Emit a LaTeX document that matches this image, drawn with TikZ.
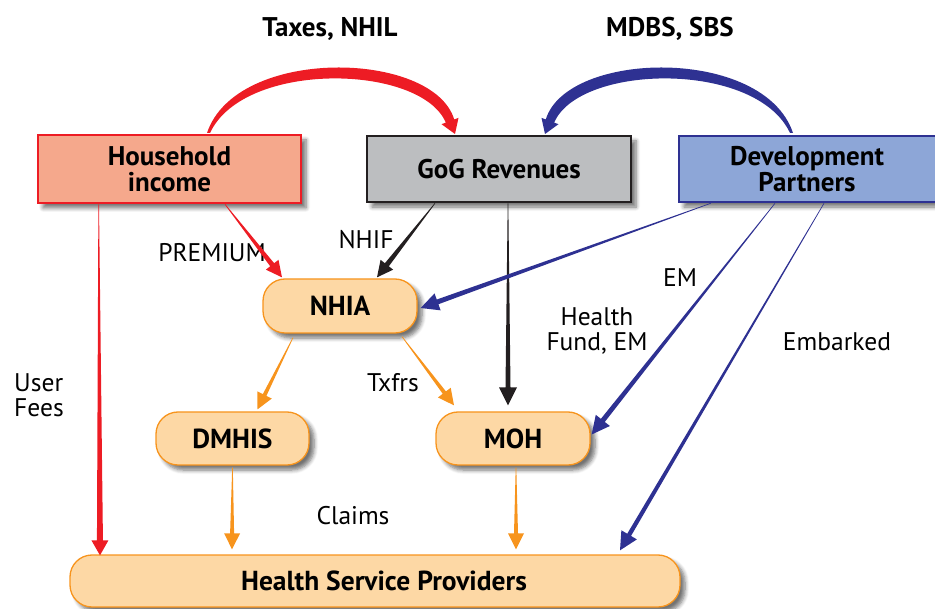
\documentclass[tikz,border=0pt]{standalone}
\usepackage{fontspec}
\setmainfont{PT Sans}
\usetikzlibrary{calc,shadows.blur}
\definecolor{cred}{HTML}{ED1C24}
\definecolor{cblue}{HTML}{2E3192}
\definecolor{cblack}{HTML}{231F20}
\definecolor{corange}{HTML}{F7941D}
\definecolor{hhfill}{HTML}{F5A88C}
\definecolor{gogfill}{HTML}{BCBEC0}
\definecolor{dpfill}{HTML}{8DA6D7}
\definecolor{orfill}{HTML}{FDD8A5}
% tapered straight arrow: color, from, to, shaft half width at end, head length, head half width
\newcommand\tarrow[6]{%
  \fill[#1] let \p1=#2, \p2=#3, \n1={atan2(\y2-\y1,\x2-\x1)},
    \p3=($(\p2)+(\n1+180:#5)$) in
    ($(\p1)+(\n1+90:0.3pt)$) -- ($(\p3)+(\n1+90:#4)$) -- ($(\p3)+(\n1+90:#6)$)
    -- (\p2) -- ($(\p3)+(\n1-90:#6)$) -- ($(\p3)+(\n1-90:#4)$)
    -- ($(\p1)+(\n1-90:0.3pt)$) -- cycle;}
\tikzset{
  shadowed/.style={blur shadow={shadow xshift=5pt, shadow yshift=-5pt, shadow blur steps=6, shadow blur radius=4pt, shadow opacity=55}},
  bigbox/.style={shadowed, line width=2.6pt, align=center, inner sep=0pt,
    font=\fontsize{27}{26}\selectfont\bfseries},
  pill/.style={shadowed, draw=corange, fill=orfill, line width=1.3pt, rounded corners=22pt,
    inner sep=0pt, font=\fontsize{27.5}{26}\selectfont\bfseries},
  lbl/.style={font=\fontsize{25.5}{25}\selectfont, align=center, inner sep=0pt},
  toplbl/.style={font=\fontsize{27}{26}\selectfont\bfseries, inner sep=0pt}
}
\begin{document}
\begin{tikzpicture}[x=1pt,y=-1pt]
\useasboundingbox (0,0) rectangle (935,609);
% boxes
\node[bigbox, draw=cred, fill=hhfill, minimum width=263pt, minimum height=68pt] (hh) at (169.5,169) {Household\\income};
\node[bigbox, draw=cblack, fill=gogfill, minimum width=264pt, minimum height=66pt] (gog) at (499,169) {GoG Revenues};
\node[bigbox, draw=cblue, fill=dpfill, minimum width=262pt, minimum height=66pt] (dp) at (810,169) {\hspace*{-6pt}Development\\\hspace*{-6pt}Partners};
\node[pill, minimum width=154pt, minimum height=54pt] (nhia) at (340,306) {NHIA};
\node[pill, minimum width=153pt, minimum height=53pt] (dmhis) at (232.5,438.5) {DMHIS};
\node[pill, minimum width=154pt, minimum height=53pt] (moh) at (513,438.5) {MOH};
\node[pill, minimum width=610pt, minimum height=52pt] (hsp) at (375,581) {\hspace*{18pt}Health Service Providers};
% labels
\node[toplbl] (l1) at (330,29) {Taxes, NHIL};
\node[toplbl] (l2) at (670,29) {MDBS, SBS};
\node[lbl] (l3) at (212,253) {PREMIUM};
\node[lbl] (l4) at (366,240) {NHIF};
\node[lbl] (l5) at (680,278) {EM};
\node[lbl] (l6) at (597,331) {Health\\Fund, EM};
\node[lbl] (l7) at (837,342) {Embarked};
\node[lbl, align=left, anchor=west] (l8) at (14,395) {User\\Fees};
\node[lbl] (l9) at (393,383) {Txfrs};
\node[lbl] (l10) at (353,516) {Claims};
% curved arrows
\fill[cred] (207,133) .. controls (236,46) and (433,50) .. (454.2,119.4) -- (458.5,117.9) -- (455,134)
  -- (441.5,124.2) -- (445.8,122.6) .. controls (421,64) and (244,60) .. (210,133) -- cycle;
\begin{scope}[xshift=1000pt, xscale=-1]
\fill[cblue] (207,133) .. controls (236,46) and (433,50) .. (454.2,119.4) -- (458.5,117.9) -- (455,134)
  -- (441.5,124.2) -- (445.8,122.6) .. controls (421,64) and (244,60) .. (210,133) -- cycle;
\end{scope}
% straight arrows
\tarrow{cred}{([xshift=55.5pt]hh.south)}{([xshift=-58pt,yshift=1pt]nhia.north)}{2.5pt}{16pt}{8pt}
\tarrow{cblack}{([xshift=-64pt]gog.south)}{([xshift=37pt,yshift=1pt]nhia.north)}{2.5pt}{16pt}{8pt}
\tarrow{cblack}{([xshift=9pt]gog.south)}{([xshift=-5pt,yshift=6pt]moh.north)}{2.5pt}{18pt}{9pt}
\tarrow{cblue}{([xshift=33pt]dp.south west)}{([xshift=3pt,yshift=-2pt]nhia.east)}{2.5pt}{18pt}{9pt}
\tarrow{cblue}{([xshift=-35pt]dp.south)}{([xshift=1pt,yshift=4pt]moh.east)}{2.5pt}{18pt}{9pt}
\tarrow{cblue}{([xshift=14pt]dp.south)}{([xshift=245pt,yshift=4pt]hsp.north)}{2.2pt}{18pt}{9pt}
\tarrow{cred}{([xshift=62pt]hh.south west)}{([xshift=-275pt,yshift=-1pt]hsp.north)}{3pt}{15pt}{8.5pt}
\tarrow{corange}{([xshift=-47pt,yshift=-4pt]nhia.south)}{([xshift=25pt,yshift=2pt]dmhis.north)}{2pt}{16pt}{8pt}
\tarrow{corange}{([xshift=62pt,yshift=-3pt]nhia.south)}{([xshift=-59pt,yshift=6pt]moh.north)}{2pt}{16pt}{8pt}
\tarrow{corange}{([yshift=-2pt]dmhis.south)}{([xshift=-143pt,yshift=5pt]hsp.north)}{2pt}{16pt}{8pt}
\tarrow{corange}{([xshift=3pt,yshift=-2pt]moh.south)}{([xshift=141pt,yshift=5pt]hsp.north)}{2pt}{16pt}{8pt}
\end{tikzpicture}
\end{document}
